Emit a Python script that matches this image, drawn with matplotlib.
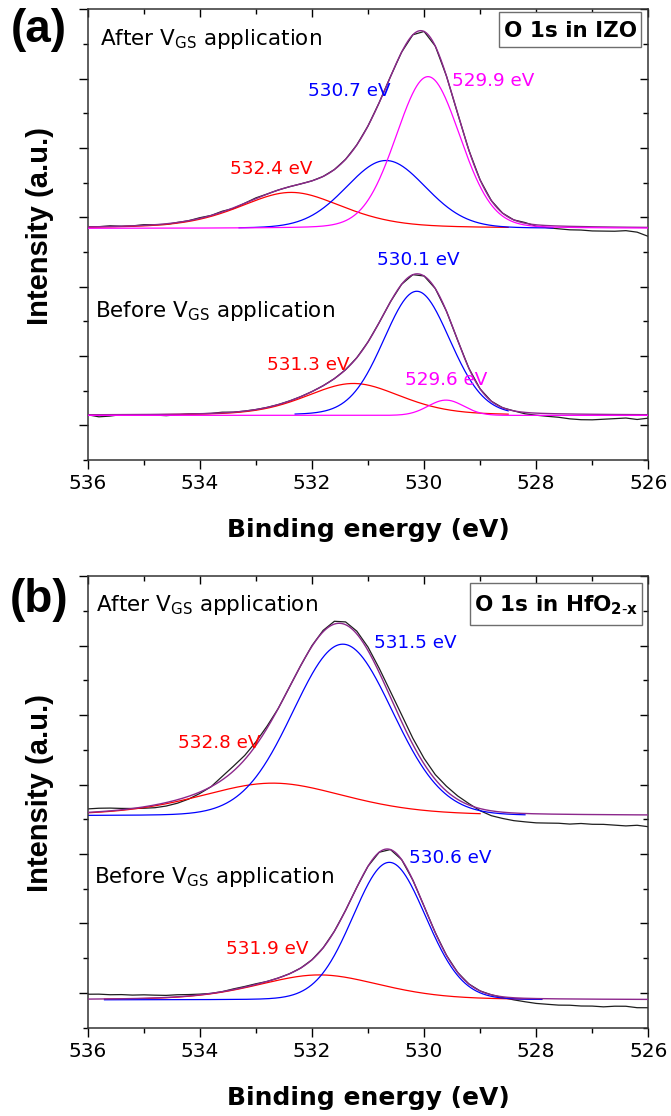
"""
O 1s XPS spectra of the IZO channel and the HfO2-x dielectric, before and after
gate-bias stress. Two stacked panels, each with the measured trace, the fitted
envelope and its components.
"""

import numpy as np
import matplotlib
matplotlib.use("Agg")
import matplotlib.pyplot as plt
from matplotlib.patches import Rectangle
from matplotlib.ticker import MultipleLocator

E_READ = np.round(np.arange(536.0, 525.99, -0.2), 1)

# ---- (a) O 1s in IZO, after V_GS -------------------------------------------
izo_after_base = 2.84
izo_after_centers = [532.37, 530.68, 529.93]
izo_after_heights = [0.52, 0.98, 2.19]
izo_after_fwhm = [2.2, 1.68, 1.35]
izo_after_eta = [0.4, 0.1, 0.1]          # lorentzian fraction of each line
izo_after_span = [(536.0, 528.5), (533.3, 527.7), (536.0, 526.0)]
izo_after_labels = ['532.4 eV', '530.7 eV', '529.9 eV']
izo_after_resid = [0, 0, .01, 0, 0, .01, 0, -.01, 0, 0,
                   .01, 0, .01, -.01, 0, .01, 0, 0, 0, 0,
                   0, 0, 0, 0, 0, 0, 0, 0, 0, 0,
                   0, 0, 0, 0, 0, 0, 0, 0, 0, .01,
                   -.02, -.03, -.04, -.05, -.05, -.06, -.06, -.06, -.05, -.07,
                   -.13]

# ---- (a) O 1s in IZO, before V_GS ------------------------------------------
izo_before_base = 0.144
izo_before_centers = [531.26, 530.13, 529.61]
izo_before_heights = [0.46, 1.79, 0.22]
izo_before_fwhm = [2.0, 1.4, 0.75]
izo_before_eta = [0.3, 0.1, 0.0]
izo_before_span = [(536.0, 528.5), (532.3, 528.5), (536.0, 526.0)]
izo_before_labels = ['531.3 eV', '530.1 eV', '529.6 eV']
izo_before_resid = [0, -.03, -.02, 0, -.01, -.01, -.01, -.02, -.01, 0,
                    0, 0, .01, 0, 0, 0, 0, 0, 0, 0,
                    0, 0, 0, 0, 0, 0, 0, 0, 0, 0,
                    0, 0, 0, 0, 0, 0, 0, 0, 0, -.02,
                    -.03, -.04, -.05, -.07, -.08, -.08, -.07, -.06, -.05, -.07,
                    -.05]

# ---- (b) O 1s in HfO2-x, after V_GS ----------------------------------------
hfo_after_base = 2.55
hfo_after_centers = [532.7, 531.45]
hfo_after_heights = [0.47, 2.47]
hfo_after_fwhm = [3.1, 2.1]
hfo_after_eta = [0.35, 0.05]
hfo_after_span = [(536.0, 529.0), (536.0, 528.2)]
hfo_after_labels = ['532.8 eV', '531.5 eV']
hfo_after_resid = [.05, .05, .04, .02, 0, -.02, -.04, -.05, -.05, -.04,
                   -.02, 0, .05, .07, .06, .05, .03, 0, 0, 0,
                   .01, .02, .04, .04, .04, .05, .06, .08, .10, .09,
                   .08, .07, .07, .05, .02, -.03, -.07, -.09, -.11, -.12,
                   -.13, -.13, -.13, -.14, -.13, -.14, -.14, -.15, -.16, -.15,
                   -.17]

# ---- (b) O 1s in HfO2-x, before V_GS ---------------------------------------
hfo_before_base = -0.10
hfo_before_centers = [531.87, 530.62]
hfo_before_heights = [0.36, 1.98]
hfo_before_fwhm = [2.6, 1.53]
hfo_before_eta = [0.3, 0.05]
hfo_before_span = [(535.7, 527.9), (535.7, 527.9)]
hfo_before_labels = ['531.9 eV', '530.6 eV']
hfo_before_resid = [.07, .07, .06, .06, .05, .05, .04, .03, .03, .02,
                    .01, 0, 0, .01, .01, .01, 0, 0, 0, 0,
                    0, 0, 0, 0, 0, 0, 0, 0, 0, 0,
                    0, 0, 0, 0, 0, 0, 0, -.01, -.03, -.05,
                    -.07, -.08, -.09, -.09, -.10, -.10, -.11, -.10, -.10, -.12,
                    -.12]

RED, BLUE, MAGENTA = '#ff0000', '#0000ff', '#ff00ff'
ENVELOPE = '#8c288c'
DATA = '#1e1e1e'


def pseudo_voigt(e, center, height, fwhm, eta):
    x2 = ((e - center) / fwhm) ** 2
    return height * ((1 - eta) * np.exp(-4 * np.log(2) * x2) + eta / (1 + 4 * x2))


def draw_spectrum(ax, base, centers, heights, fwhm, eta, spans, resid, colors):
    fine = np.linspace(536.0, 526.0, 1201)
    comps = [pseudo_voigt(fine, *p) for p in zip(centers, heights, fwhm, eta)]
    at_read = sum(pseudo_voigt(E_READ, *p) for p in zip(centers, heights, fwhm, eta))

    ax.plot(E_READ, base + at_read + np.asarray(resid), color=DATA, lw=0.9, zorder=1)
    for comp, (hi, lo), col in zip(comps, spans, colors):
        keep = (fine <= hi) & (fine >= lo)
        z = 4 if col == MAGENTA else 2
        ax.plot(fine[keep], base + comp[keep], color=col, lw=0.9, zorder=z)
    ax.plot(fine, base + sum(comps), color=ENVELOPE, lw=1.0, zorder=3)


def style_axes(ax):
    ax.set_xlim(536, 526)
    ax.set_ylim(-0.5, 6.0)
    ax.xaxis.set_major_locator(MultipleLocator(2))
    ax.xaxis.set_minor_locator(MultipleLocator(1))
    ax.yaxis.set_major_locator(MultipleLocator(1))
    ax.yaxis.set_minor_locator(MultipleLocator(0.5))
    ax.set_yticklabels([])
    ax.tick_params(which='major', direction='out', length=6.5, width=1.0,
                   labelsize=14.5, pad=3.5)
    ax.tick_params(which='minor', direction='out', length=3.6, width=1.0)
    for s in ax.spines.values():
        s.set_linewidth(1.1)
        s.set_color('#333333')

    # mirrored ticks on top and right point inwards
    top = ax.secondary_xaxis('top')
    right = ax.secondary_yaxis('right')
    for sec, axis in ((top, top.xaxis), (right, right.yaxis)):
        axis.set_major_locator(MultipleLocator(2 if sec is top else 1))
        axis.set_minor_locator(MultipleLocator(1 if sec is top else 0.5))
        sec.tick_params(which='major', direction='in', length=5.8, width=1.0,
                        labelleft=False, labelright=False, labeltop=False)
        sec.tick_params(which='minor', direction='in', length=3.6, width=1.0)
        sec.spines[:].set_visible(False)

    ax.set_xlabel('Binding energy (eV)', fontsize=18, fontweight='bold', labelpad=18)
    ax.set_ylabel('Intensity (a.u.)', fontsize=21, fontweight='bold',
                  family='Liberation Sans')
    ax.yaxis.set_label_coords(-0.060, 0.52)


def title_box(ax, text, x0, y0, x1, y1, tx, ty):
    ax.add_patch(Rectangle((x0, y0), x1 - x0, y1 - y0, transform=ax.transAxes,
                           facecolor='white', edgecolor='#6e6e6e', lw=1.0, zorder=7))
    ax.text(tx, ty, text, transform=ax.transAxes, fontsize=15.5, fontweight='bold',
            ha='center', va='baseline', zorder=8)


fig = plt.figure(figsize=(6.71, 11.16), dpi=100)
ax_a = fig.add_axes([0.1307, 0.5878, 0.8355, 0.4038])
ax_b = fig.add_axes([0.1307, 0.0791, 0.8355, 0.4047])

draw_spectrum(ax_a, izo_after_base, izo_after_centers, izo_after_heights, izo_after_fwhm,
              izo_after_eta, izo_after_span, izo_after_resid, [RED, BLUE, MAGENTA])
draw_spectrum(ax_a, izo_before_base, izo_before_centers, izo_before_heights, izo_before_fwhm,
              izo_before_eta, izo_before_span, izo_before_resid, [RED, BLUE, MAGENTA])
draw_spectrum(ax_b, hfo_after_base, hfo_after_centers, hfo_after_heights, hfo_after_fwhm,
              hfo_after_eta, hfo_after_span, hfo_after_resid, [RED, BLUE])
draw_spectrum(ax_b, hfo_before_base, hfo_before_centers, hfo_before_heights, hfo_before_fwhm,
              hfo_before_eta, hfo_before_span, hfo_before_resid, [RED, BLUE])

for ax in (ax_a, ax_b):
    style_axes(ax)

# peak labels (x in eV, y in stacked intensity units)
peak_text = 13.2
for ax, labels, spots, colors in (
        (ax_a, izo_after_labels, [(532.73, 3.70), (531.33, 4.82), (528.77, 4.96)], [RED, BLUE, MAGENTA]),
        (ax_a, izo_before_labels, [(532.06, 0.87), (530.11, 2.38), (529.61, 0.66)], [RED, BLUE, MAGENTA]),
        (ax_b, hfo_after_labels, [(533.66, 3.60), (530.15, 5.04)], [RED, BLUE]),
        (ax_b, hfo_before_labels, [(532.79, 0.64), (529.54, 1.94)], [RED, BLUE])):
    for lab, (x, y), col in zip(labels, spots, colors):
        ax.text(x, y, lab, color=col, fontsize=peak_text, ha='center', va='center', zorder=6)

cond = r'%s V$_{\mathregular{GS}}$ application'
ax_a.text(535.78, 5.48, cond % 'After', fontsize=15.5, va='baseline')
ax_a.text(535.87, 1.57, cond % 'Before', fontsize=15.5, va='baseline')
ax_b.text(535.85, 5.50, cond % 'After', fontsize=15.5, va='baseline')
ax_b.text(535.88, 1.59, cond % 'Before', fontsize=15.5, va='baseline')

title_box(ax_a, 'O 1s in IZO', 0.7337, 0.9157, 0.987, 0.9947, 0.862, 0.938)
title_box(ax_b, r'O 1s in HfO$_{\mathbf{2\text{-}x}}$', 0.6819, 0.8915, 0.9882, 0.9838,
          0.836, 0.921)

fig.text(0.0575, 0.973, '(a)', fontsize=33, fontweight='bold', ha='center', va='center',
         family='Liberation Sans')
fig.text(0.0575, 0.4624, '(b)', fontsize=33, fontweight='bold', ha='center', va='center',
         family='Liberation Sans')

fig.savefig('out.png', dpi=100)
